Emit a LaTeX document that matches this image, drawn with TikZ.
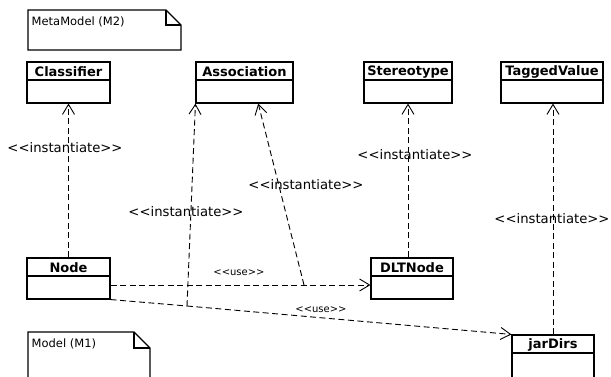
\documentclass[tikz,border=0pt]{standalone}
\usepackage{fontspec}
\setmainfont{DejaVu Sans}[Ligatures=TeXOff]
\usetikzlibrary{arrows.meta,calc,fit}
\newcommand\umlclass[7]{%
  \node[classframe, fit={(#2,#3) (#4,#5)}] (#1) {};
  \draw[classline] (#2,#6) -- (#4,#6);
  \node[classtitle] at ({(#2+#4)/2},{(#3+#6)/2+1}) {#7};
}
\begin{document}
\begin{tikzpicture}[x=1pt,y=-1pt,
  classframe/.style={draw, line width=1.1pt, inner sep=0pt},
  classline/.style={line width=1.1pt},
  classtitle/.style={font=\bfseries\fontsize{13}{15}\selectfont, inner sep=0pt},
  notebox/.style={line width=1.1pt},
  notetext/.style={font=\fontsize{11.5}{13}\selectfont, inner sep=0pt, anchor=west},
  dashline/.style={line width=0.9pt, dash pattern=on 6pt off 3.5pt},
  dep/.style={dashline, -{Straight Barb[length=10pt,width=12pt,line width=0.9pt]}},
  stlabel/.style={font=\fontsize{13.2}{15}\selectfont, inner sep=0pt},
  uselabel/.style={font=\fontsize{10}{12}\selectfont, inner sep=0pt}
]
\useasboundingbox (0,0) rectangle (611,377);

% notes
\draw[notebox] (28,10) -- (166,10) -- (181,25) -- (181,50) -- (28,50) -- cycle;
\draw[notebox] (166,10) -- (166,25) -- (181,25);
\node[notetext] (mmnote) at (31.5,22) {MetaModel (M2)};

\draw[notebox] (28,379) -- (28,332) -- (134,332) -- (150,348) -- (150,379);
\draw[notebox] (134,332) -- (134,348) -- (150,348);
\node[notetext] (mnote) at (31.5,344) {Model (M1)};

% classes
\umlclass{classifier}{27}{62}{110}{103}{80}{Classifier}
\umlclass{assoc}{196}{62}{293}{103}{80}{Association}
\umlclass{stereo}{364}{62}{452}{103}{80}{Stereotype}
\umlclass{tagged}{501}{62}{603}{103}{80}{TaggedValue}
\umlclass{node}{27}{258}{110}{299}{276}{Node}
\umlclass{dlt}{371}{258}{453}{299}{276}{DLTNode}
\umlclass{jar}{512}{335}{594}{380}{353}{jarDirs}

% junctions
\coordinate (j1) at (304,285);
\coordinate (j2) at (187,306);
\coordinate (atgt) at ($(assoc.south west)!0.64!(assoc.south east)$);

% connectors
\draw[dep] (node.north) -- (classifier.south);
\draw[dep] (node.east |- j1) -- (dlt.west |- j1);
\draw[dep] (j1) -- (atgt);
\draw[dashline] (node.south east) -- (j2);
\draw[dep] (j2) -- (jar.north west);
\draw[dep] (j2) -- (assoc.south west);
\draw[dep] (stereo.south |- dlt.north) -- (stereo.south);
\draw[dep] (jar.north) -- (jar.north |- tagged.south);

% labels
\node[stlabel] (l1) at (65,148) {<<instantiate>>};
\node[stlabel] (l2) at (186,212) {<<instantiate>>};
\node[stlabel] (l3) at (306,185) {<<instantiate>>};
\node[stlabel] (l4) at (415,155) {<<instantiate>>};
\node[stlabel] (l5) at (552,219) {<<instantiate>>};
\node[uselabel] (u1) at (239,273) {<<use>>};
\node[uselabel] (u2) at (321,310) {<<use>>};
\end{tikzpicture}
\end{document}
